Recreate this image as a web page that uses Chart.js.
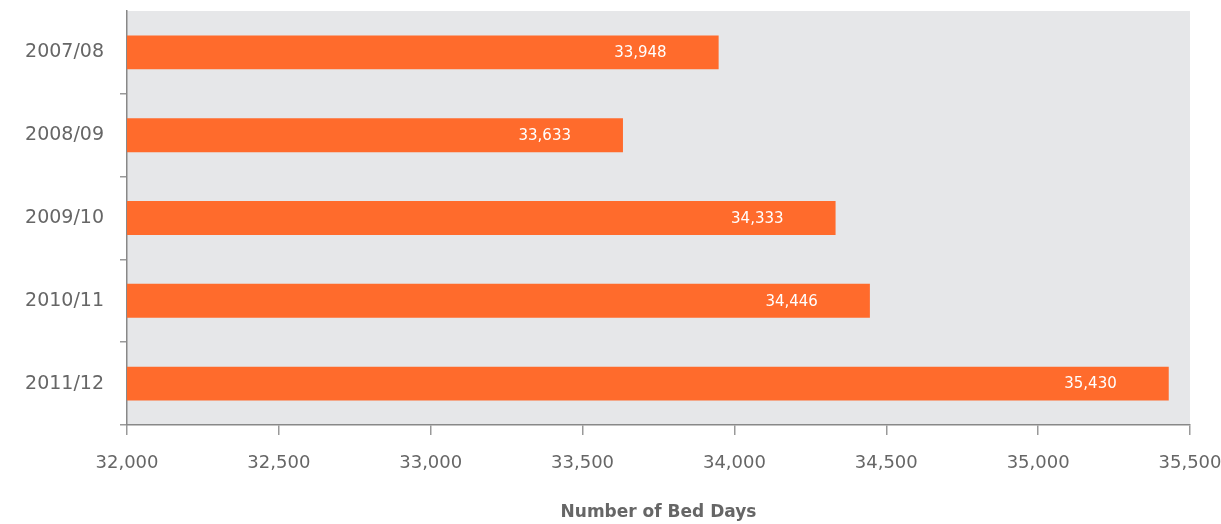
<!DOCTYPE html>
<html>
<head>
<meta charset="utf-8">
<script src="https://cdn.jsdelivr.net/npm/chart.js@4"></script>
<style>
  html, body { margin: 0; padding: 0; background: #fff; }
  #wrap { width: 1221px; height: 524px; }
</style>
</head>
<body>
<div id="wrap"><canvas id="myChart" width="1221" height="524"></canvas></div>
<script>
// values
var years = ['2007/08', '2008/09', '2009/10', '2010/11', '2011/12'];
var bedDays = [33948, 33633, 34333, 34446, 35430];
var xMin = 32000, xMax = 35500, xStep = 500;

var FONT = "'DejaVu Sans', sans-serif";

var areaBg = {
  id: 'areaBg',
  beforeDraw: function(chart) {
    var a = chart.chartArea, c = chart.ctx;
    c.save();
    c.fillStyle = '#e6e7e9';
    c.fillRect(a.left, a.top, a.right - a.left, a.bottom - a.top);
    c.restore();
  }
};

var barLabels = {
  id: 'barLabels',
  afterDatasetsDraw: function(chart) {
    var c = chart.ctx;
    var meta = chart.getDatasetMeta(0);
    c.save();
    c.fillStyle = '#ffffff';
    c.font = '15px ' + FONT;
    c.textAlign = 'right';
    c.textBaseline = 'middle';
    meta.data.forEach(function(bar, i) {
      c.fillText(bedDays[i].toLocaleString('en-US'), bar.x - 52, bar.y + 1);
    });
    c.restore();
  }
};

var ctx = document.getElementById('myChart').getContext('2d');
var myChart = new Chart(ctx, {
  type: 'bar',
  data: {
    labels: years,
    datasets: [{
      label: 'Number of Bed Days',
      data: bedDays,
      backgroundColor: '#ff6b2c',
      borderWidth: 0,
      categoryPercentage: 0.41,
      barPercentage: 1.0
    }]
  },
  options: {
    indexAxis: 'y',
    responsive: false,
    animation: false,
    layout: { padding: { top: 11, right: 31, left: 0, bottom: 1 } },
    plugins: {
      legend: { display: false },
      tooltip: { enabled: false }
    },
    scales: {
      x: {
        min: xMin,
        max: xMax,
        border: { color: '#888', width: 1.5 },
        grid: { drawOnChartArea: false, color: '#999', tickLength: 10, lineWidth: 1.5 },
        ticks: {
          stepSize: xStep,
          color: '#666',
          font: { family: FONT, size: 18 },
          padding: 18,
          callback: function(v) { return v.toLocaleString('en-US'); }
        },
        title: {
          display: true,
          text: 'Number of Bed Days',
          color: '#666',
          font: { family: FONT, size: 17, weight: 'bold' },
          padding: { top: 10, bottom: 0 }
        },
        afterFit: function(scale) { scale.paddingRight = 0; scale.paddingLeft = 0; }
      },
      y: {
        border: { color: '#888', width: 1.5 },
        grid: {
          drawOnChartArea: false,
          color: function(c) { return c.index === 0 ? 'rgba(0,0,0,0)' : '#999'; },
          tickLength: 7,
          offset: true,
          lineWidth: 1.5
        },
        ticks: {
          color: '#666',
          font: { family: FONT, size: 19 },
          padding: 16
        },
        afterFit: function(scale) {
          scale.width = 127;
          scale.paddingTop = 0;
          scale.paddingBottom = 0;
        }
      }
    }
  },
  plugins: [areaBg, barLabels]
});
</script>
</body>
</html>
